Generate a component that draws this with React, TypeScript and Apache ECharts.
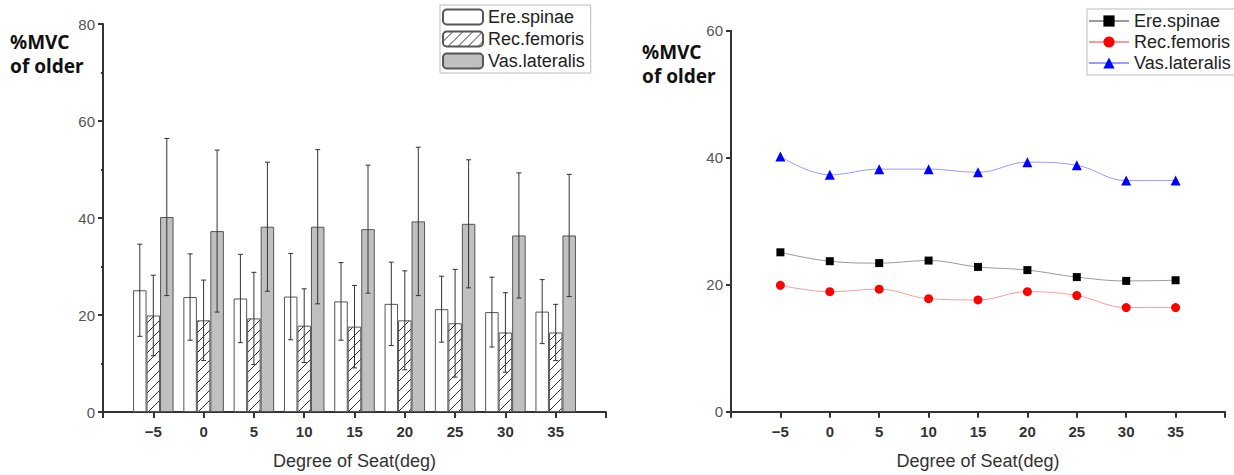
import React, { useEffect, useRef } from "react";
import * as echarts from "echarts";

const degrees = [-5, 0, 5, 10, 15, 20, 25, 30, 35];
const ereMean = [25.1, 23.7, 23.4, 23.8, 22.8, 22.3, 21.2, 20.6, 20.7];
const recMean = [19.9, 18.9, 19.3, 17.8, 17.6, 18.9, 18.3, 16.4, 16.4];
const vasMean = [40.2, 37.3, 38.2, 38.2, 37.7, 39.3, 38.8, 36.4, 36.4];
const ereSd = [9.5, 8.9, 9.1, 8.9, 8.0, 8.6, 6.8, 7.2, 6.6];
const recSd = [8.3, 8.3, 9.5, 7.6, 8.5, 10.2, 11.1, 8.2, 5.8];
const vasSd = [16.2, 16.7, 13.3, 15.9, 13.2, 15.3, 13.2, 12.9, 12.6];
const seriesNames = ["Ere.spinae", "Rec.femoris", "Vas.lateralis"];
const xTitle = "Degree of Seat(deg)";
const yTitle = ["%MVC", "of older"];

const FONT = "'Liberation Sans', Arial, sans-serif";
const BW = 13.5;
const AXIS_COLOR = "#333";

function makeHatch() {
  const c = document.createElement("canvas");
  c.width = 10;
  c.height = 10;
  const ctx = c.getContext("2d")!;
  ctx.fillStyle = "#ffffff";
  ctx.fillRect(0, 0, 10, 10);
  ctx.strokeStyle = "#333333";
  ctx.lineWidth = 1;
  ctx.beginPath();
  ctx.moveTo(-1, 11);
  ctx.lineTo(11, -1);
  ctx.moveTo(-1, 1);
  ctx.lineTo(1, -1);
  ctx.moveTo(9, 11);
  ctx.lineTo(11, 9);
  ctx.stroke();
  return c;
}

const fmtX = (v: number) => {
  if (v === -10 || v === 40) return "";
  return v < 0 ? "\u2212" + Math.abs(v) : String(v);
};

function xAxisCfg(gridIndex: number) {
  return {
    type: "value",
    gridIndex,
    min: -10,
    max: 40,
    interval: 5,
    name: xTitle,
    nameLocation: "middle",
    nameGap: 40,
    nameTextStyle: { fontFamily: FONT, fontSize: 18, color: "#333" },
    axisLine: { show: true, onZero: false, lineStyle: { color: AXIS_COLOR, width: 2 } },
    axisTick: { show: true, length: 6, lineStyle: { color: AXIS_COLOR, width: 2 } },
    axisLabel: {
      formatter: fmtX,
      fontFamily: FONT,
      fontSize: 15,
      fontWeight: "bold",
      color: "#333",
      margin: 12,
      showMinLabel: true,
      showMaxLabel: true,
    },
    splitLine: { show: false },
  };
}

function yAxisCfg(gridIndex: number, max: number, minor: boolean) {
  return {
    type: "value",
    gridIndex,
    min: 0,
    max,
    interval: 20,
    axisLine: { show: true, onZero: false, lineStyle: { color: AXIS_COLOR, width: 2 } },
    axisTick: { show: true, length: 5, lineStyle: { color: AXIS_COLOR, width: 2 } },
    minorTick: { show: minor, splitNumber: 2, length: 2, lineStyle: { color: AXIS_COLOR, width: 2 } },
    axisLabel: { fontFamily: FONT, fontSize: 15, color: "#555", margin: 8 },
    splitLine: { show: false },
  };
}

function errData(mean: number[], sd: number[]) {
  return degrees.map((d, i) => [d, mean[i] - sd[i], mean[i] + sd[i]]);
}

function errSeries(mean: number[], sd: number[], offset: number) {
  return {
    type: "custom",
    xAxisIndex: 0,
    yAxisIndex: 0,
    z: 10,
    silent: true,
    data: errData(mean, sd),
    renderItem: (params: any, api: any) => {
      const x = api.value(0);
      const lo = api.coord([x, api.value(1)]);
      const hi = api.coord([x, api.value(2)]);
      const cx = lo[0] + offset;
      const st = { stroke: "#333", lineWidth: 1 };
      return {
        type: "group",
        children: [
          { type: "line", shape: { x1: cx, y1: lo[1], x2: cx, y2: hi[1] }, style: st },
          { type: "line", shape: { x1: cx - 2.5, y1: hi[1], x2: cx + 2.5, y2: hi[1] }, style: st },
          { type: "line", shape: { x1: cx - 2.5, y1: lo[1], x2: cx + 2.5, y2: lo[1] }, style: st },
        ],
      };
    },
  };
}

function titleTexts(x: number, y: number) {
  return yTitle.map((t, i) => ({
    type: "text",
    left: x,
    top: y + i * 24,
    style: { text: t, fill: "#111", font: `bold 19px 'Noto Sans', ${FONT}` },
  }));
}

export default function App() {
  const ref = useRef<HTMLDivElement>(null);
  useEffect(() => {
    document.body.style.margin = "0";
    const chart = echarts.init(ref.current!, null, { renderer: "svg" });
    const hatch = makeHatch();
    const pair = (arr: number[]) => degrees.map((d, i) => [d, arr[i]]);
    const option: any = {
      animation: false,
      backgroundColor: "#ffffff",
      textStyle: { fontFamily: FONT },
      grid: [
        { left: 103, top: 24, width: 503, height: 388 },
        { left: 731, top: 30.7, width: 494, height: 381 },
      ],
      xAxis: [xAxisCfg(0), xAxisCfg(1)],
      yAxis: [yAxisCfg(0, 80, true), yAxisCfg(1, 60, false)],
      legend: [
        {
          data: seriesNames.map((n) => ({ name: n })),
          orient: "vertical",
          left: 440,
          top: 5,
          itemWidth: 40,
          itemHeight: 15,
          itemGap: 4,
          padding: [3, 6, 3, 2],
          borderColor: "#bbb",
          borderWidth: 1,
          textStyle: { fontFamily: FONT, fontSize: 18, color: "#222" },
          selectedMode: false,
        },
        {
          data: ["Ere.spinae ", "Rec.femoris ", "Vas.lateralis "].map((n) => ({ name: n })),
          orient: "vertical",
          left: 1087,
          top: 9,
          itemWidth: 40,
          itemHeight: 14,
          itemGap: 3,
          padding: [3, 4, 3, 1],
          borderColor: "#bbb",
          borderWidth: 1,
          textStyle: { fontFamily: FONT, fontSize: 18, color: "#222" },
          formatter: (n: string) => n.trim(),
          selectedMode: false,
        },
      ],
      graphic: [...titleTexts(10, 32), ...titleTexts(642, 42)],
      series: [
        {
          name: seriesNames[0],
          type: "bar",
          xAxisIndex: 0,
          yAxisIndex: 0,
          barWidth: BW,
          barGap: "0%",
          data: pair(ereMean),
          itemStyle: { color: "#ffffff", borderColor: "#555", borderWidth: 1 },
        },
        {
          name: seriesNames[1],
          type: "bar",
          xAxisIndex: 0,
          yAxisIndex: 0,
          barWidth: BW,
          barGap: "0%",
          data: pair(recMean),
          itemStyle: { color: { image: hatch, repeat: "repeat" }, borderColor: "#555", borderWidth: 1 },
        },
        {
          name: seriesNames[2],
          type: "bar",
          xAxisIndex: 0,
          yAxisIndex: 0,
          barWidth: BW,
          barGap: "0%",
          data: pair(vasMean),
          itemStyle: { color: "#c0c0c0", borderColor: "#555", borderWidth: 1 },
        },
        errSeries(ereMean, ereSd, -BW),
        errSeries(recMean, recSd, 0),
        errSeries(vasMean, vasSd, BW),
        {
          name: "Ere.spinae ",
          type: "line",
          xAxisIndex: 1,
          yAxisIndex: 1,
          smooth: 0.4,
          data: pair(ereMean),
          symbol: "rect",
          symbolSize: 8,
          lineStyle: { color: "#999", width: 1 },
          itemStyle: { color: "#000" },
        },
        {
          name: "Rec.femoris ",
          type: "line",
          xAxisIndex: 1,
          yAxisIndex: 1,
          smooth: 0.4,
          data: pair(recMean),
          symbol: "circle",
          symbolSize: 9,
          lineStyle: { color: "#ff9a9a", width: 1 },
          itemStyle: { color: "#ff0000" },
        },
        {
          name: "Vas.lateralis ",
          type: "line",
          xAxisIndex: 1,
          yAxisIndex: 1,
          smooth: 0.4,
          data: pair(vasMean),
          symbol: "triangle",
          symbolSize: 10,
          lineStyle: { color: "#9a9aff", width: 1 },
          itemStyle: { color: "#0000ff" },
        },
      ],
    };
    chart.setOption(option);
    return () => chart.dispose();
  }, []);
  return <div ref={ref} style={{ width: 1234, height: 475 }} />;
}
